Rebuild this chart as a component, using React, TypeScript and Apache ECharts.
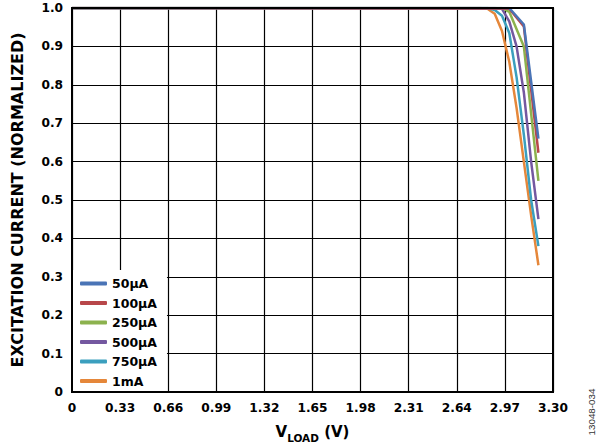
import React, { useEffect, useRef } from "react";
import * as echarts from "echarts";

const seriesNames = ["50µA", "100µA", "250µA", "500µA", "750µA", "1mA"];
const seriesColors = ["#4A74B6", "#B8474A", "#8CB24E", "#7458A0", "#3B9FBE", "#E5873A"];

const v50uA = [0, 3.0, 3.1, 3.2];
const i50uA = [1.0, 1.0, 0.957, 0.66];
const v100uA = [0, 3.0, 3.1, 3.2];
const i100uA = [1.0, 0.998, 0.952, 0.623];
const v250uA = [0, 2.95, 3.0, 3.1, 3.2];
const i250uA = [1.0, 1.0, 0.99, 0.9, 0.55];
const v500uA = [0, 2.9, 2.95, 3.0, 3.05, 3.1, 3.15, 3.2];
const i500uA = [1.0, 1.0, 0.998, 0.965, 0.9, 0.78, 0.6, 0.45];
const v750uA = [0, 2.85, 2.9, 2.95, 3.0, 3.05, 3.1, 3.15, 3.2];
const i750uA = [1.0, 1.0, 0.995, 0.98, 0.935, 0.82, 0.67, 0.5, 0.38];
const v1mA = [0, 2.8, 2.85, 2.9, 2.95, 3.0, 3.05, 3.1, 3.15, 3.2];
const i1mA = [1.0, 1.0, 0.998, 0.985, 0.94, 0.86, 0.74, 0.6, 0.46, 0.33];

const voltages = [v50uA, v100uA, v250uA, v500uA, v750uA, v1mA];
const currents = [i50uA, i100uA, i250uA, i500uA, i750uA, i1mA];

const FONT = "'DejaVu Sans', Arial, sans-serif";

export default function App() {
  const ref = useRef<HTMLDivElement>(null);
  useEffect(() => {
    if (!ref.current) return;
    const chart = echarts.init(ref.current, null, { renderer: "svg" });
    const series = seriesNames.map((name, k) => ({
      name,
      type: "line",
      data: voltages[k].map((v, j) => [v, currents[k][j]]),
      showSymbol: false,
      symbol: "none",
      lineStyle: { color: seriesColors[k], width: 2.5 },
      itemStyle: { color: seriesColors[k] },
      z: 10 - k,
    }));
    chart.setOption({
      animation: false,
      textStyle: { fontFamily: FONT },
      grid: { left: 72, right: 46, top: 8, bottom: 56, containLabel: false },
      legend: {
        orient: "vertical",
        left: 72,
        top: 270,
        z: 20,
        backgroundColor: "#fff",
        padding: [6, 10, 4, 8],
        itemGap: 4.5,
        itemWidth: 27,
        itemHeight: 4,
        icon: "roundRect",
        data: seriesNames,
        textStyle: { fontFamily: FONT, fontSize: 12.5, fontWeight: "bold", color: "#000", lineHeight: 15 },
      },
      xAxis: {
        type: "value",
        min: 0,
        max: 3.3,
        interval: 0.33,
        axisLine: { show: false },
        axisTick: { show: false },
        splitLine: { show: true, lineStyle: { color: "#000", width: 1.2 } },
        axisLabel: {
          margin: 10,
          fontSize: 12.2,
          fontWeight: "bold",
          color: "#000",
          fontFamily: FONT,
          formatter: (v: number) => (v === 0 ? "0" : v.toFixed(2)),
        },
        name: "{v|V}{s|LOAD}{v| (V)}",
        nameLocation: "middle",
        nameGap: 29,
        nameTextStyle: {
          rich: {
            v: { fontSize: 15, fontWeight: "bold", color: "#000", fontFamily: FONT, lineHeight: 22, verticalAlign: "middle" },
            s: { fontSize: 10.5, fontWeight: "bold", color: "#000", fontFamily: FONT, lineHeight: 22, verticalAlign: "bottom" },
          },
        },
      },
      yAxis: {
        type: "value",
        min: 0,
        max: 1,
        interval: 0.1,
        axisLine: { show: false },
        axisTick: { show: false },
        splitLine: { show: true, lineStyle: { color: "#000", width: 1.2 } },
        axisLabel: {
          margin: 9,
          fontSize: 12.2,
          fontWeight: "bold",
          color: "#000",
          fontFamily: FONT,
          formatter: (v: number) => (v === 0 ? "0" : v.toFixed(1)),
        },
        name: "EXCITATION CURRENT (NORMALIZED)",
        nameLocation: "middle",
        nameRotate: 90,
        nameGap: 47,
        nameTextStyle: { fontSize: 16, fontWeight: "bold", color: "#000", fontFamily: FONT },
      },
      graphic: [
        {
          type: "rect",
          silent: true,
          z: 100,
          shape: { x: 72, y: 8, width: 481, height: 384 },
          style: { fill: "none", stroke: "#000", lineWidth: 2 },
        },
        {
          type: "text",
          silent: true,
          x: 591,
          y: 412,
          rotation: Math.PI / 2,
          style: {
            text: "13048-034",
            fontSize: 9.8,
            fontFamily: "'Liberation Sans', Arial, sans-serif",
            fill: "#333",
            textAlign: "center",
            textVerticalAlign: "middle",
          },
        },
      ],
      series,
    });
    return () => chart.dispose();
  }, []);
  return <div ref={ref} style={{ width: 599, height: 448, position: "absolute", left: 0, top: 0 }} />;
}
